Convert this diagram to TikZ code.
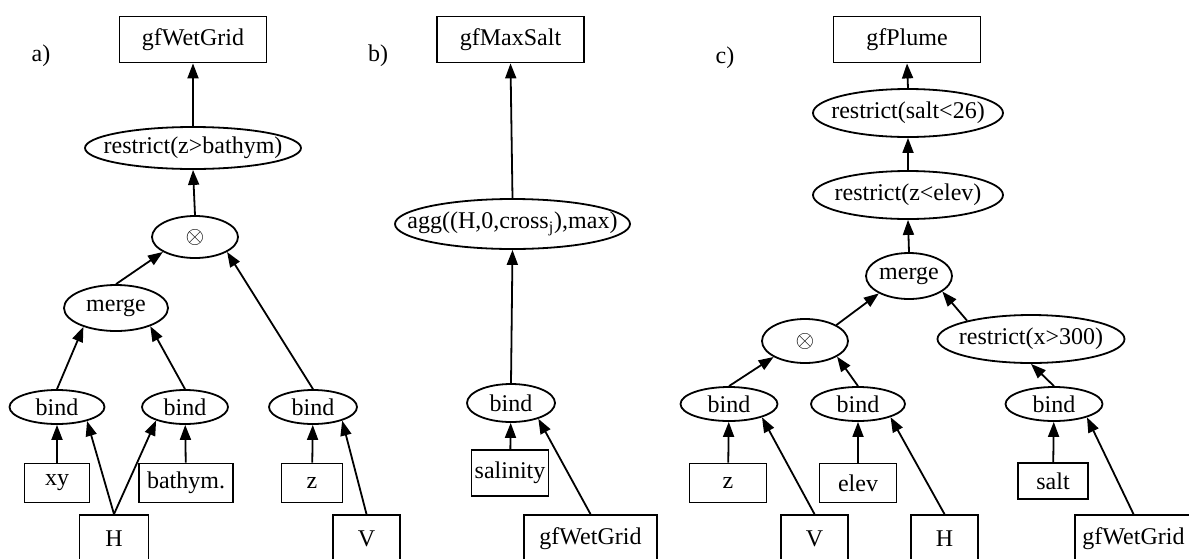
\documentclass[tikz,border=0pt]{standalone}
\usepackage{fontspec}
\setmainfont{Liberation Serif}
\usetikzlibrary{shapes.geometric,arrows.meta}

\newcommand{\optext}[1]{\makebox[0pt]{#1}}

\begin{document}
\begin{tikzpicture}[
  x=0.5pt, y=-0.5pt,
  font=\fontsize{12}{14}\selectfont,
  >={Triangle[length=7.5pt, width=5.5pt]},
  data/.style={rectangle, draw, line width=0.9pt, inner sep=0pt, minimum height=19.5pt},
  result/.style={data, minimum width=73.5pt, minimum height=23pt},
  src/.style={data, minimum height=24pt},
  op/.style={ellipse, draw, line width=0.9pt, inner sep=0pt, minimum height=21pt},
  bnd/.style={op, minimum height=17pt},
  flow/.style={->, line width=0.9pt},
]

\def\ytop{39.5}  \def\ysrc{539}

\useasboundingbox (0,0) rectangle (1189,558);

% panel labels
\node (labA) at (41,56)  {a)};
\node (labB) at (378,56) {b)};
\node (labC) at (725,58) {c)};

% a) wet grid
\node[result] (wetA) at (193,\ytop) {gfWetGrid};
\node[op, minimum width=108pt] (restrictA) at (193,148) {\optext{restrict(z>bathym)}};
\node[op, minimum width=43pt] (otimesA) at (195,237) {$\otimes$};
\node[op, minimum width=52pt, minimum height=23pt] (mergeA) at (116,308) {merge};
\node[bnd, minimum width=47.5pt] (bindA1) at (57,407)  {bind};
\node[bnd, minimum width=43pt]   (bindA2) at (185,407) {bind};
\node[bnd, minimum width=44pt]   (bindA3) at (313,407) {bind};
\node[data, minimum width=32.5pt] (xyA)   at (57,483)  {xy};
\node[data, minimum width=47pt]   (bathA) at (186,483) {bathym.};
\node[data, minimum width=30.5pt] (zA)    at (312,483) {z};
\node[src, minimum width=34.5pt] (HA) at (114,\ysrc)   {H};
\node[src, minimum width=33.5pt] (VA) at (366.5,\ysrc) {V};

\draw[flow] (restrictA.north) -- (wetA.south);
\draw[flow] (otimesA.north) -- (restrictA.south);
\draw[flow] (mergeA.north) -- (otimesA.-155);
\draw[flow] (bindA3.north) -- (otimesA.-25);
\draw[flow] (bindA1.north) -- (mergeA.-150);
\draw[flow] (bindA2.north) -- (mergeA.-28);
\draw[flow] (xyA) -- (bindA1);
\draw[flow] (HA.north) -- (bindA1.-25);
\draw[flow] (HA.north) -- (bindA2.-155);
\draw[flow] (bathA) -- (bindA2);
\draw[flow] (zA) -- (bindA3);
\draw[flow] (VA.north) -- (bindA3.-25);

% b) max salt
\node[result] (maxB) at (510.5,\ytop) {gfMaxSalt};
\node[op, minimum width=117.5pt, minimum height=25pt] (aggB) at (512.5,224)
  {\optext{agg((H,0,cross\textsubscript{j}),max)}};
\node[bnd, minimum width=44pt, minimum height=19pt] (bindB) at (511,403) {bind};
\node[data, minimum width=38.5pt, minimum height=23pt] (salB) at (510,473) {salinity};
\node[src, minimum width=66.5pt] (wetB) at (590.5,\ysrc) {gfWetGrid};

\draw[flow] (aggB.north) -- (maxB.south);
\draw[flow] (bindB.north) -- (aggB.south);
\draw[flow] (salB) -- (bindB);
\draw[flow] (wetB.north) -- (bindB.-30);

% c) plume
\node[result] (plumeC) at (907,\ytop) {gfPlume};
\node[op, minimum width=95pt, minimum height=24pt] (saltRC) at (908,113) {\optext{restrict(salt<26)}};
\node[op, minimum width=95pt, minimum height=24pt] (elevRC) at (908,195) {\optext{restrict(z<elev)}};
\node[op, minimum width=43pt, minimum height=23pt] (mergeC) at (909,276) {merge};
\node[op, minimum width=43pt, minimum height=22pt] (otimesC) at (805,341) {$\otimes$};
\node[op, minimum width=93.5pt, minimum height=24pt] (xRC) at (1031,339) {\optext{restrict(x>300)}};
\node[bnd, minimum width=48.5pt] (bindC1) at (729,404)  {bind};
\node[bnd, minimum width=47pt]   (bindC2) at (858,404)  {bind};
\node[bnd, minimum width=48.5pt] (bindC3) at (1054,404) {bind};
\node[data, minimum width=38.5pt] (zC)    at (728,483)  {z};
\node[data, minimum width=38.5pt] (elevC) at (858,483)  {elev};
\node[data, minimum width=35pt, minimum height=18pt] (saltC) at (1053,481) {salt};
\node[src, minimum width=33.5pt] (VC)   at (814.5,\ysrc)  {V};
\node[src, minimum width=33.5pt] (HC)   at (944.5,\ysrc)  {H};
\node[src, minimum width=58.5pt] (wetC) at (1133.5,\ysrc) {gfWetGrid};

\draw[flow] (saltRC.north) -- (plumeC.south);
\draw[flow] (elevRC.north) -- (saltRC.south);
\draw[flow] (mergeC.north) -- (elevRC.south);
\draw[flow] (otimesC.27) -- (mergeC.-150);
\draw[flow] (xRC.164) -- (mergeC.-25);
\draw[flow] (bindC1.north) -- (otimesC.-153);
\draw[flow] (bindC2.north) -- (otimesC.-26);
\draw[flow] (bindC3.north) -- (xRC.south);
\draw[flow] (zC) -- (bindC1);
\draw[flow] (VC.north) -- (bindC1.-22);
\draw[flow] (elevC) -- (bindC2);
\draw[flow] (HC.north) -- (bindC2.-22);
\draw[flow] (saltC) -- (bindC3);
\draw[flow] (wetC.north) -- (bindC3.-22);

\end{tikzpicture}
\end{document}
